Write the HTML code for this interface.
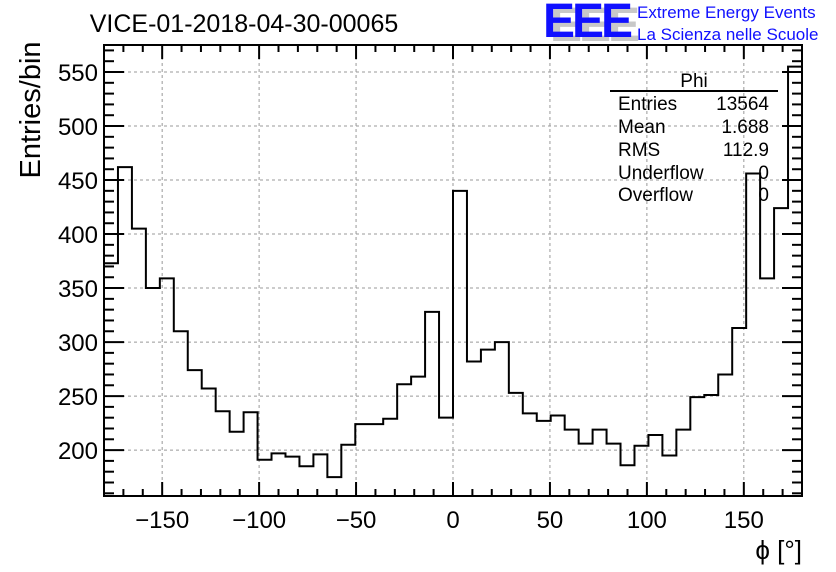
<!DOCTYPE html>
<html><head><meta charset="utf-8"><style>
html,body{margin:0;padding:0;background:#fff;}
svg{display:block;font-family:"Liberation Sans",sans-serif;}
</style></head><body>
<svg id="c" width="836" height="572">
<rect width="836" height="572" fill="#fff"/>
<g id="grid"></g>
<g id="axes"></g>
<path id="hist" fill="none" stroke="#000" stroke-width="2"/>
<text x="244" y="32" font-size="25" text-anchor="middle">VICE-01-2018-04-30-00065</text>
<text x="40" y="110" font-size="29" text-anchor="middle" transform="rotate(-90 40 110)">Entries/bin</text>
<text x="802" y="559" font-size="26" text-anchor="end">ϕ [°]</text>
<g>
<text x="550" y="41" font-size="48" fill="#c8c8c8" font-weight="bold" letter-spacing="-3" transform="scale(1,1)">EEE</text>
<text x="543" y="37" font-size="48" fill="#1010ff" font-weight="bold" letter-spacing="-3">EEE</text>
<text x="637" y="18" font-size="17" fill="#1010ff">Extreme Energy Events</text>
<text x="637" y="40" font-size="17" fill="#1010ff">La Scienza nelle Scuole</text>
</g>
<g font-size="19">
<text x="694" y="87" text-anchor="middle">Phi</text>
<line x1="610" y1="91" x2="778" y2="91" stroke="#000" stroke-width="2"/>
<text x="618" y="110">Entries</text><text x="769" y="110" text-anchor="end">13564</text>
<text x="618" y="133">Mean</text><text x="769" y="133" text-anchor="end">1.688</text>
<text x="618" y="156">RMS</text><text x="769" y="156" text-anchor="end">112.9</text>
<text x="618" y="179">Underflow</text><text x="769" y="179" text-anchor="end">0</text>
<text x="618" y="201">Overflow</text><text x="769" y="201" text-anchor="end">0</text>
</g>
<rect x="104" y="45" width="698" height="451" fill="none" stroke="#000" stroke-width="2"/>
</svg>
<script>
const binLow = -180, binWidth = 7.2;
const counts = [373,462,405,350,359,310,274,257,236,217,235,191,197,194,185,196,175,205,224,224,229,261,268,328,230,440,282,293,300,253,234,227,232,219,206,219,206,186,204,214,195,219,249,251,270,313,456,359,424,555];
const xTicks = [-150,-100,-50,0,50,100,150];
const yTicks = [200,250,300,350,400,450,500,550];
const X0=104,X1=802,Y0=496,Y1=45, xmin=-180,xmax=180, ymin=157.5,ymax=575;
const sx=v=>X0+(v-xmin)/(xmax-xmin)*(X1-X0);
const sy=v=>Y0-(v-ymin)/(ymax-ymin)*(Y0-Y1);
const NS='http://www.w3.org/2000/svg';
const grid=document.getElementById('grid'), axes=document.getElementById('axes');
function mk(tag,attrs,parent){const e=document.createElementNS(NS,tag);for(const k in attrs)e.setAttribute(k,attrs[k]);parent.appendChild(e);return e;}
xTicks.forEach(t=>{
  const l=mk('line',{x1:sx(t),x2:sx(t),y1:Y1,y2:Y0,stroke:'#999','stroke-dasharray':'3,3','stroke-width':1},grid);
  
  
  const lb=mk('text',{x:sx(t),y:528,'font-size':24,'text-anchor':'middle'},axes);
  lb.textContent=t<0?'\u2212'+Math.abs(t):String(t);
  
  
});
yTicks.forEach(t=>{
  const l=mk('line',{x1:X0,x2:X1,y1:sy(t),y2:sy(t),stroke:'#999','stroke-dasharray':'3,3','stroke-width':1},grid);
  
  
  const lb=mk('text',{x:98,y:sy(t)+9,'font-size':24,'text-anchor':'end'},axes);
  lb.textContent=String(t);
  
  
});
for(let v=-170;v<=170;v+=10){const big=v%50===0;const L=big?14:7;
  mk('line',{x1:sx(v),x2:sx(v),y1:Y0,y2:Y0-L,stroke:'#000','stroke-width':2},axes);
  mk('line',{x1:sx(v),x2:sx(v),y1:Y1,y2:Y1+L,stroke:'#000','stroke-width':2},axes);}
for(let v=160;v<=570;v+=10){const big=v%50===0;const L=big?20:10;
  mk('line',{x1:X0,x2:X0+L,y1:sy(v),y2:sy(v),stroke:'#000','stroke-width':2},axes);
  mk('line',{x1:X1,x2:X1-L,y1:sy(v),y2:sy(v),stroke:'#000','stroke-width':2},axes);}
let d='M'+sx(binLow)+','+sy(counts[0]);
counts.forEach((c,i)=>{const a=binLow+i*binWidth,b=a+binWidth;
  d+=' L'+sx(a)+','+sy(c)+' L'+sx(b)+','+sy(c);});
document.getElementById('hist').setAttribute('d',d);
</script>
</body></html>
